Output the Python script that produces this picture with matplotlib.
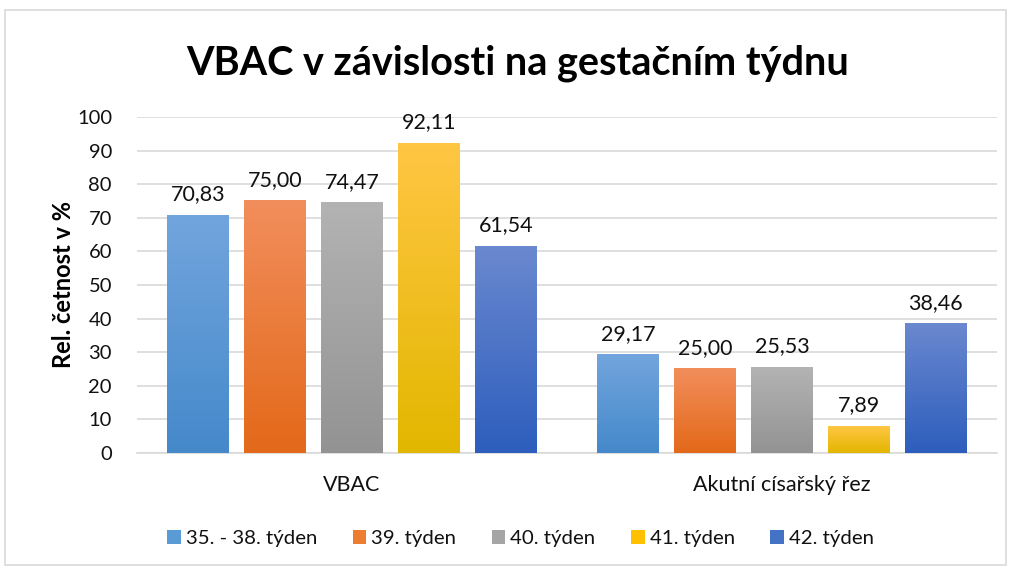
import matplotlib.pyplot as plt
import matplotlib.colors as mcolors
import numpy as np
from matplotlib.patches import Rectangle

categories = ['VBAC', 'Akutní císařský řez']
series = ['35. - 38. týden', '39. týden', '40. týden', '41. týden', '42. týden']
values = [
    [70.83, 29.17],
    [75.00, 25.00],
    [74.47, 25.53],
    [92.11, 7.89],
    [61.54, 38.46],
]
# (top, bottom) gradient colours per series
grad = [('#72a5dd', '#4589cb'), ('#f28e5c', '#e3691a'), ('#b3b3b3', '#939393'),
        ('#ffc643', '#e2b700'), ('#6a88cf', '#2d5ebd')]
base = ['#5b9bd5', '#ed7d31', '#a5a5a5', '#ffc000', '#4472c4']

plt.rcParams['font.family'] = ['Lato', 'DejaVu Sans']

fig = plt.figure(figsize=(10.11, 5.70), dpi=100)
fig.patches.append(Rectangle((0.005, 0.008), 0.99, 0.975, transform=fig.transFigure,
                             fill=False, edgecolor='#d9d9d9', linewidth=1.2))
ax = fig.add_axes([0.1355, 0.2053, 0.8505, 0.5895])

x = np.arange(len(categories))
step = 77 / 430
width = 62 / 430
for i, s in enumerate(series):
    bars = ax.bar(x + (i - 2) * step, values[i], width, color=base[i], label=s, zorder=2)
    cmap = mcolors.LinearSegmentedColormap.from_list('g', [grad[i][1], grad[i][0]])
    for b, v in zip(bars, values[i]):
        x0, y0, w, h = b.get_x(), b.get_y(), b.get_width(), b.get_height()
        ax.imshow(np.linspace(0, 1, 100).reshape(-1, 1), cmap=cmap, origin='lower',
                  extent=[x0, x0 + w, y0, y0 + h], aspect='auto', zorder=3)
        ax.annotate(f'{v:.2f}'.replace('.', ','), (x0 + w / 2, y0 + h),
                    xytext=(0, 8), textcoords='offset points', ha='center',
                    va='bottom', fontsize=15.5, color='#111111', zorder=4)

ax.set_xlim(-0.5, 1.5)
ax.set_ylim(0, 100)
ax.set_yticks(range(0, 101, 10))
ax.set_xticks(x)
ax.set_xticklabels(categories)
ax.tick_params(axis='both', length=0, labelsize=14.5, labelcolor='#111111')
ax.tick_params(axis='x', labelsize=15.5, pad=16)
ax.tick_params(axis='y', pad=18)
ax.grid(axis='y', color='#d9d9d9', linewidth=1.2, zorder=0)
ax.set_axisbelow(True)
for sp in ['top', 'right', 'left']:
    ax.spines[sp].set_visible(False)
ax.spines['bottom'].set_color('#d9d9d9')
ax.spines['bottom'].set_linewidth(1.2)

ax.set_ylabel('Rel. četnost v %', fontsize=17, fontweight='bold', color='#000000', labelpad=1)
fig.suptitle('VBAC v závislosti na gestačním týdnu', fontsize=28.5, fontweight='bold',
             y=0.922, x=0.512)

handles, labels = ax.get_legend_handles_labels()
fig.legend(handles, labels, loc='center', bbox_to_anchor=(0.515, 0.055), ncol=5,
           frameon=False, fontsize=14.7, handlelength=0.65, handleheight=0.65,
           columnspacing=1.75, handletextpad=0.25, labelcolor='#111111')

fig.savefig('out.png', dpi=100)
